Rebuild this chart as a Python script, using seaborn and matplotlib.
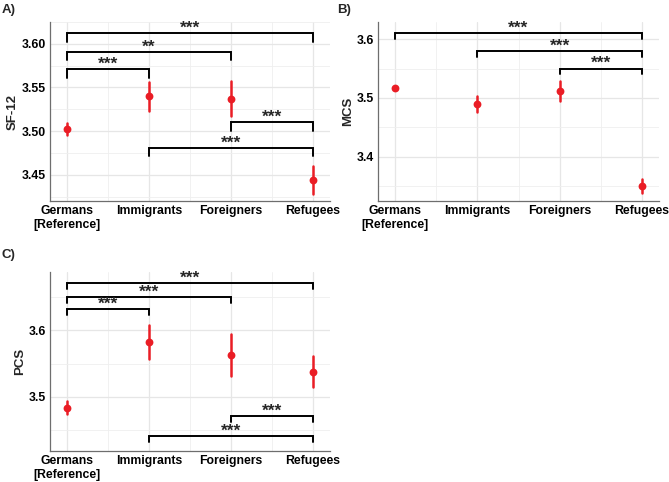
import numpy as np
import pandas as pd
import matplotlib
matplotlib.use("Agg")
import matplotlib.pyplot as plt
from matplotlib.ticker import MultipleLocator
import seaborn as sns

# Datos
grupos = ["Germans\n[Reference]", "Immigrants", "Foreigners", "Refugees"]

sf12_media = [3.502, 3.540, 3.537, 3.444]
sf12_inf = [3.496, 3.523, 3.517, 3.428]
sf12_sup = [3.509, 3.556, 3.558, 3.460]

mcs_media = [3.517, 3.490, 3.512, 3.351]
mcs_inf = [3.515, 3.477, 3.495, 3.338]
mcs_sup = [3.520, 3.504, 3.528, 3.363]

pcs_media = [3.483, 3.582, 3.562, 3.538]
pcs_inf = [3.474, 3.556, 3.531, 3.515]
pcs_sup = [3.494, 3.607, 3.594, 3.561]

# Comparaciones: (grupo1, grupo2, altura, etiqueta)
sf12_comp = [(0, 3, 3.612, "***"), (0, 2, 3.591, "**"), (0, 1, 3.571, "***"),
             (2, 3, 3.510, "***"), (1, 3, 3.481, "***")]
mcs_comp = [(0, 3, 3.610, "***"), (1, 3, 3.580, "***"), (2, 3, 3.550, "***")]
pcs_comp = [(0, 3, 3.671, "***"), (0, 2, 3.650, "***"), (0, 1, 3.631, "***"),
            (2, 3, 3.471, "***"), (1, 3, 3.441, "***")]

ROJO = "#EA1D25"

sns.set_theme(style="whitegrid")
plt.rcParams["font.family"] = ["Liberation Sans", "DejaVu Sans"]
plt.rcParams["font.weight"] = "bold"


def panel(ax, media, inf, sup, comp, ylabel, ylim, paso, fmt, tip):
    df = pd.DataFrame({
        "grupo": np.repeat(grupos, 3),
        "valor": np.column_stack([inf, media, sup]).ravel(),
    })
    sns.pointplot(data=df, x="grupo", y="valor", order=grupos,
                  estimator=np.median,
                  errorbar=lambda v: (v.min(), v.max()),
                  color=ROJO, linestyle="none", markersize=3.6,
                  err_kws={"linewidth": 1.8}, ax=ax)

    for a, b, h, txt in comp:
        ax.plot([a, a, b, b], [h - tip, h, h, h - tip], color="black",
                lw=1.4, solid_joinstyle="miter", zorder=3)
        ax.annotate(txt, ((a + b) / 2, h), xytext=(0, 0.3),
                    textcoords="offset points", ha="center", va="baseline",
                    fontsize=12.5, fontweight="bold")

    ax.set_xlim(-0.21, 3.21)
    ax.set_ylim(*ylim)
    ax.yaxis.set_major_locator(MultipleLocator(paso))
    ax.yaxis.set_minor_locator(MultipleLocator(paso / 2))
    ax.yaxis.set_major_formatter(fmt)
    ax.set_xticks(range(4), minor=False)
    ax.set_xticks([0.5, 1.5, 2.5], minor=True)
    ax.grid(which="major", color="#E6E6E6", lw=0.9)
    ax.grid(which="minor", color="#EFEFEF", lw=0.6)
    ax.set_axisbelow(True)
    ax.set_facecolor("white")
    for lado in ["top", "right"]:
        ax.spines[lado].set_visible(False)
    for lado in ["left", "bottom"]:
        ax.spines[lado].set_color("#6E6E6E")
        ax.spines[lado].set_linewidth(0.9)
    ax.tick_params(axis="both", which="both", length=0, labelsize=8.8,
                   colors="black", pad=3)
    for t in ax.get_xticklabels() + ax.get_yticklabels():
        t.set_fontweight("bold")
    ax.set_xlabel("")
    ax.set_ylabel(ylabel, fontsize=9.5, fontweight="bold", labelpad=2)


fig = plt.figure(figsize=(6.69, 4.82), dpi=100)
W, H = 669, 482
axA = fig.add_axes([50 / W, 1 - 201 / H, 280 / W, 179 / H])
axB = fig.add_axes([378 / W, 1 - 201 / H, 281 / W, 179 / H])
axC = fig.add_axes([50 / W, 1 - 451 / H, 280 / W, 179 / H])

panel(axA, sf12_media, sf12_inf, sf12_sup, sf12_comp, "SF-12",
      (3.420, 3.625), 0.05, "{x:.2f}", 0.010)
panel(axB, mcs_media, mcs_inf, mcs_sup, mcs_comp, "MCS",
      (3.325, 3.629), 0.1, "{x:.1f}", 0.010)
panel(axC, pcs_media, pcs_inf, pcs_sup, pcs_comp, "PCS",
      (3.419, 3.687), 0.1, "{x:.1f}", 0.009)

fig.text(2 / W, 1 - 10 / H, "A)", fontsize=9.5, fontweight="bold", va="center")
fig.text(337 / W, 1 - 10 / H, "B)", fontsize=9.5, fontweight="bold", va="center")
fig.text(2 / W, 1 - 255 / H, "C)", fontsize=9.5, fontweight="bold", va="center")

fig.savefig("out.png", dpi=100, facecolor="white")
